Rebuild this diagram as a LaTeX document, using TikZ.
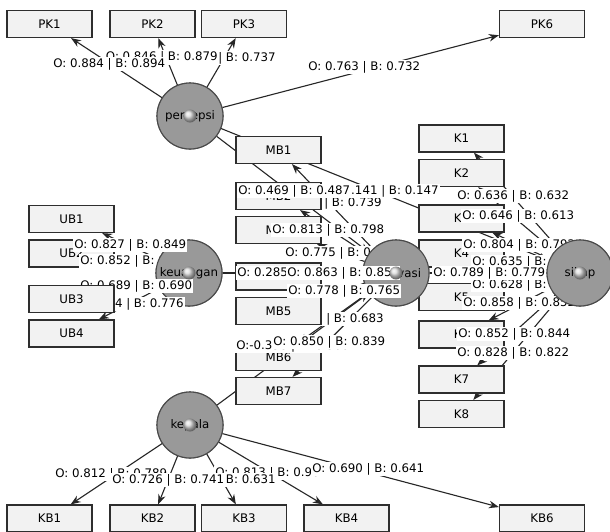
\documentclass[tikz,border=0pt]{standalone}
\usepackage{fontspec}
\setmainfont{DejaVu Sans}
\usetikzlibrary{arrows.meta,shadings}
\definecolor{boxfill}{HTML}{F2F2F2}
\definecolor{boxdraw}{HTML}{2E2E2E}
\definecolor{cfill}{HTML}{999999}
\definecolor{cdraw}{HTML}{4A4A4A}
\newcommand\lblfont{\fontsize{11.8}{13}\selectfont}
\begin{document}
\begin{tikzpicture}[x=1pt,y=-1pt,
  ind/.style={draw=boxdraw, fill=boxfill, line width=1.2pt, minimum width=85pt, minimum height=27pt, inner sep=0pt, font=\lblfont},
  lv/.style={circle, draw=cdraw, fill=cfill, line width=1.1pt, minimum size=66pt, inner sep=0pt},
  lvtext/.style={font=\lblfont, inner sep=0pt},
  lab/.style={fill=white, inner sep=1.2pt, font=\lblfont},
  con/.style={draw=black!85, line width=1.1pt, -{Stealth[length=10pt,width=7.5pt]}},
  ballstyle/.style={ball color=gray!30}]
\useasboundingbox (0,0) rectangle (610,531);
\fill[white] (0,0) rectangle (610,531);

% latent variables (circles, first as anchors for connectors)
\node[lv] (per) at (190,116) {};
\node[lv] (keu) at (189,273) {};
\node[lv] (mot) at (396,273) {};
\node[lv] (sik) at (580,273) {};
\node[lv] (kep) at (190,425) {};

% indicator boxes (positions)
\node[ind] (PK1) at (49.5,24) {};
\node[ind] (PK2) at (152.5,24) {};
\node[ind] (PK3) at (244,24) {};
\node[ind] (PK6) at (542,24) {};
\node[ind] (MB1) at (278.5,150) {};
\node[ind] (MB2) at (278.5,196) {};
\node[ind] (MB3) at (278.5,230) {};
\node[ind] (MB4) at (278.5,276.5) {};
\node[ind] (MB5) at (278.5,311) {};
\node[ind] (MB6) at (278.5,357) {};
\node[ind] (MB7) at (278.5,391) {};
\node[ind] (K1) at (461.5,138.5) {};
\node[ind] (K2) at (461.5,173) {};
\node[ind] (K3) at (461.5,218.5) {};
\node[ind] (K4) at (461.5,253.5) {};
\node[ind] (K5) at (461.5,297) {};
\node[ind] (K6) at (461.5,334.5) {};
\node[ind] (K7) at (461.5,379.5) {};
\node[ind] (K8) at (461.5,414) {};
\node[ind] (UB1) at (71.5,219) {};
\node[ind] (UB2) at (71.5,253.5) {};
\node[ind] (UB3) at (71.5,299) {};
\node[ind] (UB4) at (71.5,333.5) {};
\node[ind] (KB1) at (49.5,518.5) {};
\node[ind] (KB2) at (152.5,518.5) {};
\node[ind] (KB3) at (244,518.5) {};
\node[ind] (KB4) at (346.5,518.5) {};
\node[ind] (KB6) at (542,518.5) {};

% connectors
\draw[con] (per) -- (PK1);
\draw[con] (per) -- (PK2);
\draw[con] (per) -- (PK3);
\draw[con] (per) -- (PK6);
\draw[con] (per) -- (mot);
\draw[con] (per) -- (sik);
\draw[con] (keu) -- (mot);
\draw[con] (kep) -- (mot);
\draw[con] (mot) -- (sik);
\foreach \u in {UB1,UB2,UB3,UB4} \draw[con] (keu) -- (\u);
\foreach \m in {MB1,MB2,MB3,MB4,MB5,MB6,MB7} \draw[con] (mot) -- (\m);
\foreach \k in {K1,K2,K3,K4,K5,K6,K7,K8} \draw[con] (sik) -- (\k);
\foreach \b in {KB1,KB2,KB3,KB4,KB6} \draw[con] (kep) -- (\b);

% labels lying under boxes
\node[lab, anchor=east] (lmb1) at (383,203) {O: 0.745 | B: 0.739};
\node[lab, anchor=east] (lmb6) at (385,319) {O: 0.693 | B: 0.683};

% boxes on top of connectors
\foreach \n/\x/\y in {PK1/49.5/24, PK2/152.5/24, PK3/244/24, PK6/542/24,
  MB1/278.5/150, MB2/278.5/196, MB3/278.5/230, MB4/278.5/276.5, MB5/278.5/311, MB6/278.5/357, MB7/278.5/391,
  K1/461.5/138.5, K2/461.5/173, K3/461.5/218.5, K4/461.5/253.5, K5/461.5/297, K6/461.5/334.5, K7/461.5/379.5, K8/461.5/414,
  UB1/71.5/219, UB2/71.5/253.5, UB4/71.5/333.5,
  KB1/49.5/518.5, KB2/152.5/518.5, KB3/244/518.5, KB4/346.5/518.5, KB6/542/518.5}
  \node[ind] (top\n) at (\x,\y) {\n};

% persepsi labels
\node[lab, anchor=east] (lpk3) at (277,58) {O: 0.716 | B: 0.737};
\node[lab, anchor=east] (lpk2) at (219,57) {O: 0.846 | B: 0.879};
\node[lab, anchor=west] (lpk1) at (52,64) {O: 0.884 | B: 0.894};
\node[lab, anchor=west] (lpk6) at (307,67) {O: 0.763 | B: 0.732};

% structural labels around motivasi
\node[lab, anchor=east] (lps) at (440,191) {O: 0.141 | B: 0.147};
\node[lab, anchor=west] (lpm) at (237,191) {O: 0.469 | B: 0.487};
\node[lab, anchor=west] (lmb3) at (271,230) {O: 0.813 | B: 0.798};
\node[lab, anchor=west] (lkm) at (236,273) {O: 0.285 | B: 0.283};
\node[lab, anchor=west] (lkepm) at (235,346) {O:-0.358 | B:-0.360};
\node[lab, anchor=west] (lmb7) at (272,342) {O: 0.850 | B: 0.839};

% keuangan group
\node[lab, anchor=west] (lub2) at (79,261) {O: 0.852 | B: 0.874};
\node[lv] (keuc) at (keu) {};
\node[lab, anchor=west] (lub1) at (73,245) {O: 0.827 | B: 0.849};
\node[lab, anchor=west] (lub3) at (79,286) {O: 0.689 | B: 0.690};
\node[lab, anchor=east] (lub4) at (185,304) {O: 0.774 | B: 0.776};
\node[ind] (topUB3) at (71.5,299) {UB3};
\node[lvtext] (keut) at (keu) {keuangan};
\shade[ballstyle] (keu) circle (6.5pt);

% motivasi group
\node[lab, anchor=west] (lmb2) at (284,253) {O: 0.775 | B: 0.761};
\node[lv] (motc) at (mot) {};
\node[lvtext] (mott) at (mot) {motivasi};
\node[lab, anchor=west] (lmb4) at (286,273) {O: 0.863 | B: 0.856};
\node[lab, anchor=west] (lmb5) at (287,291) {O: 0.778 | B: 0.765};
\shade[ballstyle] (mot) circle (6.5pt);

% sikap group
\node[lab, anchor=west] (lk1) at (456,196) {O: 0.636 | B: 0.632};
\node[lab, anchor=west] (lk2) at (461,216) {O: 0.646 | B: 0.613};
\node[lab, anchor=west] (lk3) at (462,245) {O: 0.804 | B: 0.792};
\node[lab, anchor=west] (lk4) at (471,262) {O: 0.635 | B: 0.622};
\node[lab, anchor=west] (lk5) at (471,285) {O: 0.628 | B: 0.617};
\node[lab, anchor=west] (lms) at (432,273) {O: 0.789 | B: 0.779};
\node[lab, anchor=west] (lk6) at (462,303) {O: 0.858 | B: 0.852};
\node[lab, anchor=west] (lk7) at (457,334) {O: 0.852 | B: 0.844};
\node[lab, anchor=west] (lk8) at (456,353) {O: 0.828 | B: 0.822};
\node[lv] (sikc) at (sik) {};
\node[lvtext] (sikt) at (sik) {sikap};
\shade[ballstyle] (sik) circle (6.5pt);

% kepala group
\node[lab, anchor=west] (lkb1) at (54,474) {O: 0.812 | B: 0.789};
\node[lab, anchor=west] (lkb4) at (214,473) {O: 0.813 | B: 0.902};
\node[lab, anchor=east] (lkb3) at (277,480) {O: 0.645 | B: 0.631};
\node[lab, anchor=west] (lkb2) at (111,480) {O: 0.726 | B: 0.741};
\node[lab, anchor=west] (lkb6) at (311,469) {O: 0.690 | B: 0.641};
\node[lv] (kepc) at (kep) {};
\node[lvtext] (kept) at (kep) {kepala};
\shade[ballstyle] (kep) circle (6.5pt);

% persepsi circle
\node[lv] (perc) at (per) {};
\node[lvtext] (pert) at (per) {persepsi};
\shade[ballstyle] (per) circle (6.5pt);
\end{tikzpicture}
\end{document}
